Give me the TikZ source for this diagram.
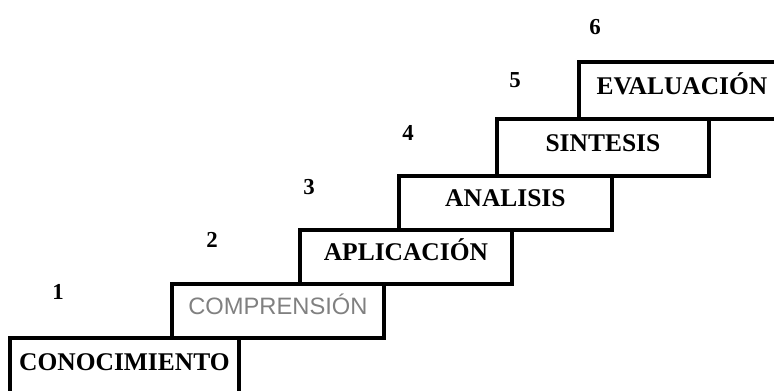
\documentclass[tikz,border=0pt]{standalone}
\usepackage{fontspec}
\setmainfont{Liberation Serif}
\newfontfamily\lightfont{Liberation Sans}
\begin{document}
\begin{tikzpicture}[x=0.02cm, y=-0.02cm,
    stepbox/.style={draw, line width=2.2pt, anchor=north west, inner sep=0pt,
      text height=0.45cm, text depth=0.3cm,
      font=\fontsize{14.5}{17}\selectfont\bfseries},
    num/.style={font=\fontsize{13}{15}\selectfont\bfseries}]
  \useasboundingbox (0,0) rectangle (774,390);
  \clip (0,0) rectangle (774,390);

  % steps, bottom to top
  \node[stepbox, minimum width=4.58cm, minimum height=1.14cm] (conocimiento) at (8,336) {CONOCIMIENTO};
  \node[stepbox, minimum width=4.24cm, minimum height=1.08cm, text=black!50,
    font=\lightfont\fontsize{13.5}{16}\selectfont] (comprension) at (170,282) {COMPRENSIÓN};
  \node[stepbox, minimum width=4.24cm, minimum height=1.08cm] (aplicacion) at (298,228) {APLICACIÓN};
  \node[stepbox, minimum width=4.26cm, minimum height=1.08cm] (analisis) at (397,174) {ANALISIS};
  \node[stepbox, minimum width=4.24cm, minimum height=1.14cm] (sintesis) at (495,117) {SINTESIS};
  \node[stepbox, minimum width=4.12cm, minimum height=1.14cm] (evaluacion) at (577,60) {EVALUACIÓN};

  % level numbers
  \node[num] (n1) at (58,292) {1};
  \node[num] (n2) at (212,240) {2};
  \node[num] (n3) at (309,187) {3};
  \node[num] (n4) at (408,133) {4};
  \node[num] (n5) at (515,80) {5};
  \node[num] (n6) at (595,27) {6};
\end{tikzpicture}
\end{document}
